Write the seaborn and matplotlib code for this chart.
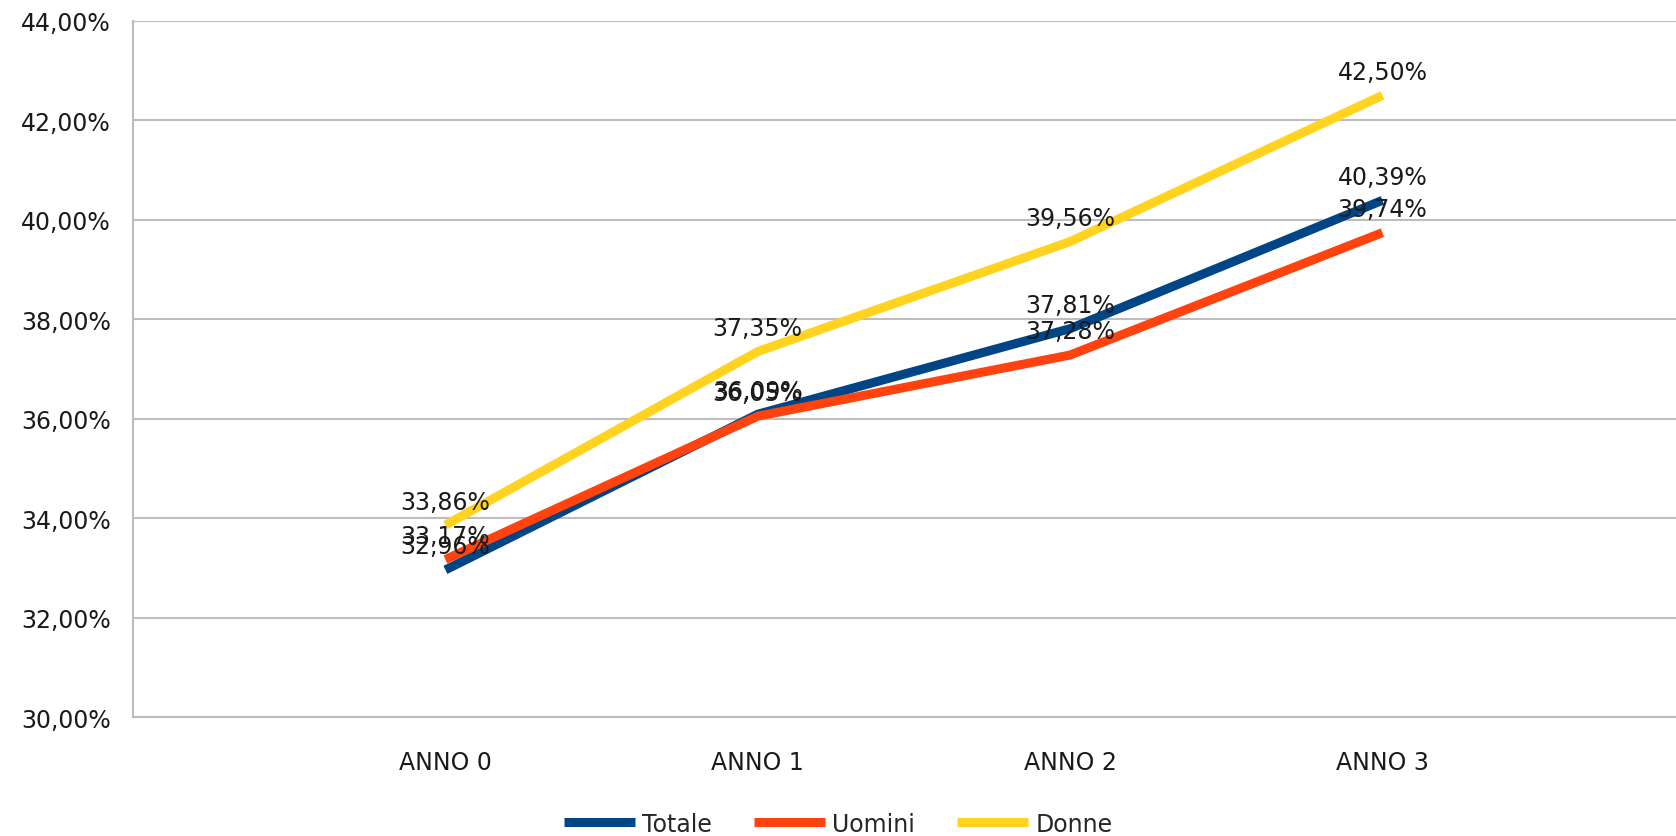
import pandas as pd
import matplotlib
matplotlib.use("Agg")
import matplotlib.pyplot as plt
import seaborn as sns
from matplotlib.ticker import FuncFormatter

anni = ["ANNO 0", "ANNO 1", "ANNO 2", "ANNO 3"]
totale = [32.96, 36.09, 37.81, 40.39]
uomini = [33.17, 36.05, 37.28, 39.74]
donne = [33.86, 37.35, 39.56, 42.50]
serie = ["Totale", "Uomini", "Donne"]
colori = ["#004586", "#ff420e", "#ffd320"]

rows = []
for nome, valori in zip(serie, [totale, uomini, donne]):
    for i, v in enumerate(valori):
        rows.append({"pos": i, "anno": anni[i], "serie": nome, "val": v})
data = pd.DataFrame(rows)

sns.set_style("white")
plt.rcParams['font.family'] = ['DejaVu Sans']

fig = plt.figure(figsize=(16.76, 8.37), dpi=100)
ax = fig.add_axes([0.0794, 0.142, 0.9206, 0.832])

# griglia orizzontale
for y in range(30, 45, 2):
    ax.axhline(y, color="#bdbdbd", lw=1.5, zorder=0)

sns.lineplot(data=data, x="pos", y="val", hue="serie", palette=colori,
             hue_order=serie, linewidth=6.5, ax=ax, legend=True,
             solid_capstyle="butt", solid_joinstyle="miter")

# etichette dei valori
for nome, valori in zip(serie, [totale, uomini, donne]):
    for i, v in enumerate(valori):
        ax.annotate(f"{v:.2f}%".replace(".", ","), (i, v), xytext=(0, 17),
                    textcoords="offset points", ha="center", va="center",
                    fontsize=17, color="#1a1a1a")

ax.set_xlim(-1, 3.94)
ax.set_ylim(30, 44)
ax.set_yticks(range(30, 45, 2))
ax.yaxis.set_major_formatter(FuncFormatter(lambda v, p: f"{v:.2f}%".replace(".", ",")))
ax.set_xticks([-1, 0, 1, 2, 3])
ax.set_xticklabels([""] + anni)
ax.set_xlabel("")
ax.set_ylabel("")
ax.tick_params(axis="both", length=10, width=1.5, color="#bdbdbd",
               labelsize=17, labelcolor="#1a1a1a", pad=6)
ax.tick_params(axis="x", pad=14)
for s in ["top", "right"]:
    ax.spines[s].set_visible(False)
for s in ["left", "bottom"]:
    ax.spines[s].set_color("#bdbdbd")
    ax.spines[s].set_linewidth(1.5)

ax.legend_.remove()
h, l = ax.get_legend_handles_labels()
for hd in h:
    hd.set_solid_capstyle("butt")
fig.legend(h, l, loc="lower center", bbox_to_anchor=(0.5, -0.025), ncol=3,
           frameon=False, fontsize=17, handlelength=3.0, columnspacing=1.8,
           handletextpad=0.3)

fig.savefig("out.png", dpi=100)
